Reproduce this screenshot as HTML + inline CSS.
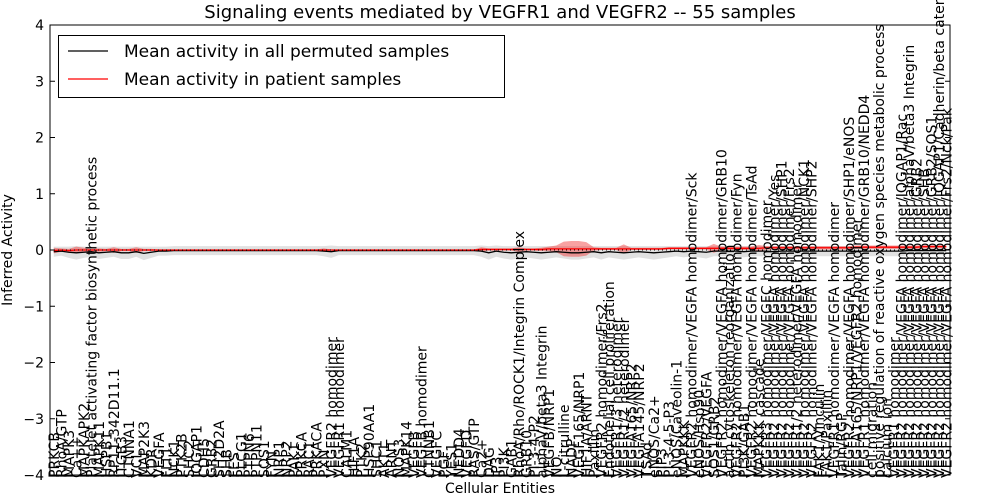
<!DOCTYPE html>
<html><head><meta charset="utf-8"><style>
html,body{margin:0;padding:0;background:#fff;}
svg{display:block;font-family:"DejaVu Sans","Liberation Sans",sans-serif;}
</style></head><body>
<div style="position:relative;width:1000px;height:500px">
<svg id="chart" width="1000" height="500" viewBox="0 0 1000 500" style="position:absolute;left:0;top:0">
<g id="bands"></g><g id="lines"></g><g id="xlabels"></g><g id="axes"></g>
<text x="500" y="18" text-anchor="middle" font-size="18">Signaling events mediated by VEGFR1 and VEGFR2 -- 55 samples</text>
<text x="500" y="493" text-anchor="middle" font-size="14">Cellular Entities</text>
<text transform="translate(12,250) rotate(-90)" text-anchor="middle" font-size="14">Inferred Activity</text>
<g>
<rect x="58.5" y="35.5" width="446" height="62" fill="#fff" stroke="#000"/>
<line x1="68" x2="108" y1="51" y2="51" stroke="#000" stroke-width="1.3"/>
<text x="124" y="57" font-size="17">Mean activity in all permuted samples</text>
<line x1="68" x2="108" y1="79" y2="79" stroke="#f00" stroke-width="1.3"/>
<text x="124" y="85" font-size="17">Mean activity in patient samples</text>
</g>
</svg></div>
<script>
const labels=["PRKCB","RhoA/GTP","MAPK3","Ca++","MAPKAPK2","Platelet activating factor biosynthetic process","MAPK11","HSPB1","RP11-342D11.1","ITGB3","CTNNA1","VCL","MAP2K3","KDR","VEGFA","FLT1","NCK1","PTK2B","SHC2","IQGAP1","CDH5","GRB2","SH2D2A","SHB","FES","PLCG1","PTPN6","PTPN11","SOS1","FYN","NRP1",
"NRP2","PAK1","PRKCA","RAC1","PRKACA","PXN","VEGFR2 homodimer","VEGFR1 homodimer","CALM1","HIF1A","PTK2","HSP90AA1","SHC1","AKT1","ARNT","NOS3","MAPK14","VEGFB","VEGFB homodimer","CTNNB1","VEGFC","PGF","YES1","NEDD4","VEGFD","RAS/GTP","Ca2+","DAG","IP3","PI3K",
"GAB1","RhoA/Rho/ROCK1/Integrin Complex","GRB10","PI-3-4-P2","alphaV/beta3 Integrin","VEGFB/NRP1","NO","L-citrulline","NADP","VEGF165/NRP1","HIF1A/ARNT","Paxillin","VEGFR2 homodimer/Frs2","Endothelial cell proliferation","VEGFR1/3 heterodimer","VEGFR1/2 heterodimer","VEGFA165/NRP2","VEGFA145/NRP2","TSAd","eNOS/Ca2+","PIP3","PI-3-4-5-P3","eNOS/Caveolin-1","MAPKKK","VEGFR2 homodimer/VEGFA homodimer/Sck","eNOS/Hsp90","VEGFR2/VEGFA","SOS1/GRB2",
"VEGFR2 homodimer/VEGFA homodimer/GRB10","actin cytoskeleton reorganization","VEGFR2 homodimer/VEGFA homodimer/Fyn","PI3K/GAB1","VEGFR2 homodimer/VEGFA homodimer/TsAd","MAPKKK cascade","VEGFR3 homodimer/VEGFC homodimer","VEGFR2 homodimer/VEGFA homodimer/Yes","VEGFR2 homodimer/VEGFA homodimer/SHP1","VEGFR2 homodimer/VEGFA homodimer/Frs2","VEGFR1/2 heterodimer/VEGFA homodimer","VEGFR2 homodimer/VEGFA homodimer/NCK1","VEGFR2 homodimer/VEGFA homodimer/SHP2","FAK1/Vinculin","FAK1/Paxillin","VEGFR1 homodimer/VEGFA homodimer","Talin/RGP","VEGFR2 homodimer/VEGFA homodimer/SHP1/eNOS","VEGFA165/NRP1/VEGFR2 homodimer","VEGFR1 homodimer/VEGFA homodimer/GRB10/NEDD4","cell migration","positive regulation of reactive oxygen species metabolic process","calcium ion","VEGFR1 homodimer","VEGFR2 homodimer/VEGFA homodimer/IQGAP1/Rac","VEGFR2 homodimer/VEGFA homodimer/alphaV/beta3 Integrin","VEGFR2 homodimer/VEGFA homodimer/GRB2","VEGFR2 homodimer/VEGFA homodimer/SHB","VEGFR2 homodimer/VEGFA homodimer/GRB2/SOS1","VEGFR2 homodimer/VEGFA homodimer/IQGAP1/Cadherin/beta catenin","VEGFR2 homodimer/VEGFA homodimer/Frs2/Nck/Pak"];
const permMean=[-0.03,-0.02,-0.04,-0.05,-0.04,-0.03,-0.05,-0.04,-0.03,-0.05,
-0.05,-0.03,-0.06,-0.04,-0.02,-0.02,-0.01,-0.01,-0.01,-0.01,
-0.01,-0.01,-0.01,-0.01,-0.01,-0.01,-0.01,-0.01,-0.01,-0.01,
-0.01,-0.01,-0.01,-0.01,-0.01,-0.01,-0.02,-0.03,-0.01,-0.01,
-0.01,-0.01,-0.01,-0.01,-0.01,-0.01,-0.01,-0.01,-0.01,-0.01,
-0.01,-0.01,-0.01,-0.01,-0.01,-0.01,-0.01,-0.02,-0.05,-0.02,
-0.04,-0.05,-0.04,-0.03,-0.04,-0.05,-0.04,-0.03,-0.04,-0.05,
-0.05,-0.04,-0.03,-0.05,-0.03,-0.04,-0.05,-0.04,-0.03,-0.04,
-0.05,-0.04,-0.03,-0.02,-0.03,-0.02,-0.03,-0.04,-0.02,-0.02,
-0.02,-0.02,-0.03,-0.02,-0.02,-0.02,-0.03,-0.02,-0.02,-0.02,
-0.02,-0.02,-0.02,-0.02,-0.02,-0.02,-0.02,-0.02,-0.02,-0.02,
-0.02,-0.02,-0.02,-0.02,-0.01,-0.01,-0.01,-0.01,-0.01,-0.01];
const patMean=[-0.01,0,-0.01,0,0,0,0,0,0,0,
0,0,0,0,0,0,0,0,0,0,
0,0,0,0,0,0,0,0,0,0,
0,0,0,0,0,0,0,0,0,0,
0,0,0,0,0,0,0,0,0,0,
0,0,0,0,0,0,0,0.01,0.01,0.01,
0.01,0.01,0.01,0.01,0.01,0.01,0.02,0.02,0.02,0.02,
0.02,0.02,0.02,0.02,0.02,0.02,0.02,0.02,0.02,0.02,
0.02,0.02,0.03,0.03,0.03,0.03,0.03,0.03,0.03,0.03,
0.03,0.03,0.03,0.03,0.03,0.04,0.04,0.04,0.04,0.04,
0.04,0.04,0.04,0.04,0.04,0.04,0.04,0.05,0.05,0.05,
0.05,0.05,0.05,0.05,0.05,0.05,0.06,0.06,0.06,0.06];
const permSpread=[0.09,0.08,0.1,0.12,0.1,0.09,0.11,0.1,0.09,0.11,
0.11,0.09,0.12,0.1,0.08,0.08,0.08,0.08,0.08,0.08,
0.08,0.08,0.08,0.08,0.08,0.08,0.08,0.08,0.08,0.08,
0.08,0.08,0.08,0.08,0.08,0.08,0.09,0.11,0.08,0.08,
0.08,0.08,0.08,0.08,0.08,0.08,0.08,0.08,0.08,0.08,
0.08,0.08,0.08,0.08,0.08,0.08,0.08,0.1,0.12,0.1,
0.11,0.12,0.11,0.1,0.11,0.12,0.11,0.1,0.11,0.12,
0.12,0.11,0.1,0.12,0.1,0.11,0.12,0.11,0.1,0.11,
0.12,0.11,0.1,0.09,0.1,0.09,0.1,0.11,0.09,0.09,
0.09,0.09,0.1,0.09,0.09,0.09,0.1,0.09,0.09,0.09,
0.09,0.09,0.09,0.09,0.09,0.09,0.09,0.09,0.09,0.09,
0.09,0.09,0.09,0.09,0.08,0.08,0.08,0.08,0.08,0.08];
const patSpread=[0.05,0.03,0.03,0.06,0.04,0.02,0.03,0.02,0.05,0.02,
0.02,0.05,0.02,0.02,0.01,0.01,0.01,0.01,0.01,0.01,
0.01,0.01,0.01,0.01,0.01,0.01,0.01,0.01,0.01,0.01,
0.01,0.01,0.01,0.01,0.01,0.01,0.03,0.01,0.01,0.01,
0.01,0.01,0.01,0.01,0.01,0.01,0.01,0.01,0.01,0.01,
0.01,0.01,0.01,0.01,0.01,0.01,0.01,0.04,0.02,0.02,
0.02,0.02,0.04,0.02,0.02,0.03,0.04,0.06,0.13,0.14,
0.14,0.12,0.03,0.02,0.02,0.02,0.08,0.02,0.02,0.02,
0.02,0.02,0.02,0.02,0.02,0.02,0.02,0.02,0.08,0.03,
0.03,0.03,0.03,0.03,0.06,0.03,0.03,0.03,0.03,0.03,
0.03,0.03,0.03,0.03,0.03,0.03,0.03,0.03,0.03,0.03,
0.03,0.03,0.03,0.03,0.03,0.03,0.03,0.03,0.03,0.03];
const yTicks=[-4,-3,-2,-1,0,1,2,3,4];

const NS="http://www.w3.org/2000/svg";
const L=50,R=950,T=25,B=475;
const n=labels.length;
const xs=i=>L+(i+0.5)*(R-L)/n;
const ys=v=>T+(4-v)*(B-T)/8;
function mk(tag,attrs,parent){const e=document.createElementNS(NS,tag);for(const k in attrs)e.setAttribute(k,attrs[k]);parent.appendChild(e);return e;}
const bands=document.getElementById('bands'),lines=document.getElementById('lines'),xl=document.getElementById('xlabels'),ax=document.getElementById('axes');

function band(mean,spread,fill,op,name){
  let up=[],dn=[];
  for(let i=0;i<n;i++){up.push(xs(i)+','+ys(mean[i]+spread[i]));dn.unshift(xs(i)+','+ys(mean[i]-spread[i]));}
  const p=mk('polygon',{points:up.concat(dn).join(' '),fill:fill,'fill-opacity':op},bands);
  
  
}
band(permMean,permSpread,'#c8c8c8',0.55,'permuted-spread-band');
band(patMean,patSpread,'#f03030',0.45,'patient-spread-band');
function line(vals,color,name){
  const pts=vals.map((v,i)=>xs(i)+','+ys(v)).join(' ');
  const p=mk('polyline',{points:pts,fill:'none',stroke:color,'stroke-width':1.3},lines);
  
  
}
line(permMean,'#000','permuted-mean-line');
line(patMean,'#ff0000','patient-mean-line');
const zl=mk('line',{x1:L,x2:R,y1:ys(0),y2:ys(0),stroke:'#000','stroke-dasharray':'1,3','stroke-width':1},lines);



labels.forEach((t,i)=>{
  const x=xs(i)+5;
  const e=mk('text',{x:0,y:0,transform:`translate(${x},478) rotate(-90)`,'font-size':14,fill:'#000'},xl);
  e.textContent=t;
  
  
});

const frame=mk('rect',{x:L,y:T,width:R-L,height:B-T,fill:'none',stroke:'#000','stroke-width':1},ax);


yTicks.forEach(v=>{
  const y=ys(v);
  mk('line',{x1:L,x2:L+5,y1:y,y2:y,stroke:'#000'},ax);
  mk('line',{x1:R-5,x2:R,y1:y,y2:y,stroke:'#000'},ax);
  const e=mk('text',{x:L-6,y:y+5,'text-anchor':'end','font-size':14},ax);
  e.textContent=(v<0?'\u2212'+(-v):v);
  
  
});
</script>
</body></html>
